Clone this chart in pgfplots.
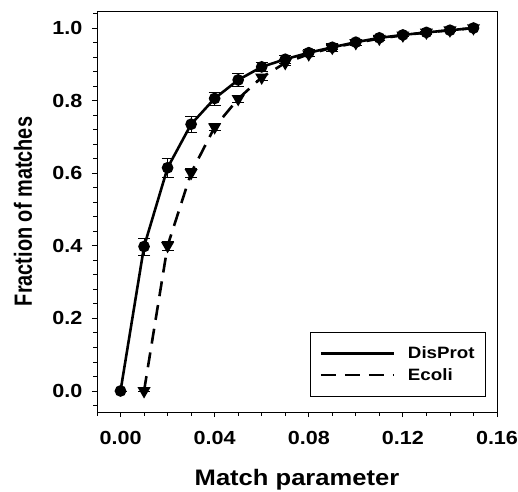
\documentclass[border=0pt]{standalone}
\usepackage{fontspec}
\setmainfont{Liberation Sans}
\newfontfamily\hfont{Liberation Sans}[FakeStretch=1.14]
\newfontfamily\vfont{Liberation Sans}[FakeStretch=0.8]
\usepackage{pgfplots}
\pgfplotsset{compat=1.18}

\pgfplotstableread{
x     y      e
0.00  0.000  0.000
0.01  0.398  0.023
0.02  0.615  0.027
0.03  0.735  0.023
0.04  0.806  0.018
0.05  0.857  0.017
0.06  0.893  0.012
0.07  0.914  0.012
0.08  0.932  0.010
0.09  0.947  0.010
0.10  0.961  0.008
0.11  0.973  0.007
0.12  0.981  0.005
0.13  0.988  0.004
0.14  0.994  0.003
0.15  1.000  0.000
}\disprot

\pgfplotstableread{
x     y      e
0.01  0.000  0.000
0.02  0.400  0.013
0.03  0.601  0.012
0.04  0.727  0.010
0.05  0.805  0.010
0.06  0.864  0.009
0.07  0.904  0.008
0.08  0.928  0.007
0.09  0.946  0.006
0.10  0.959  0.006
0.11  0.971  0.005
0.12  0.980  0.004
0.13  0.988  0.003
0.14  0.994  0.002
0.15  1.000  0.000
}\ecoli

\begin{document}
\begin{tikzpicture}
\begin{axis}[
  name=ax,
  scale only axis,
  width=400bp, height=401bp,
  xmin=-0.01, xmax=0.16,
  ymin=-0.058, ymax=1.047,
  xtick={0,0.04,...,0.16},
  minor xtick={-0.01,0.01,0.02,0.03,0.05,0.06,0.07,0.09,0.10,0.11,0.13,0.14,0.15},
  ytick={0,0.2,...,1.0},
  minor ytick={-0.04,0.04,0.08,0.12,0.16,0.24,0.28,0.32,0.36,0.44,0.48,0.52,0.56,0.64,0.68,0.72,0.76,0.84,0.88,0.92,0.96,1.04},
  xticklabel style={/pgf/number format/.cd,fixed,fixed zerofill,precision=2},
  yticklabel style={/pgf/number format/.cd,fixed,fixed zerofill,precision=1},
  /pgf/number format/assume math mode=true,
  tick label style={font=\hfont\bfseries\fontsize{19}{20}\selectfont},
  xticklabel shift=11bp, yticklabel shift=6bp,
  tick align=outside,
  xtick pos=bottom, ytick pos=left,
  major tick length=5bp, minor tick length=3.5bp,
  every tick/.style={black, line width=0.8pt},
  axis line style={line width=0.9pt},
  xlabel={Match parameter},
  ylabel={Fraction of matches},
  xlabel style={font=\hfont\bfseries\fontsize{22.5}{24}\selectfont,
    at={(axis description cs:0.5,-0.1845)}, anchor=base},
  ylabel style={font=\vfont\bfseries\fontsize{25}{26}\selectfont,
    at={(axis description cs:-0.1625,0.5)}, anchor=base},
  legend style={at={(0.9725,0.037)}, anchor=south east, draw=black, line width=0.8pt,
    font=\hfont\bfseries\fontsize{16.5}{18}\selectfont, row sep=4bp, column sep=11bp,
    inner xsep=9bp, inner ysep=13bp},
  legend cell align=left,
  legend image code/.code={\draw[#1, line width=2.4pt] (0bp,0bp) -- (73bp,0bp);},
]
\addplot[black, line width=2.6pt, mark=*, mark size=4.5bp,
  error bars/.cd, y dir=both, y explicit,
  error bar style={line width=0.7pt},
  error mark options={black, line width=0.7pt, mark size=6bp, rotate=90}]
  table[x=x, y=y, y error=e] {\disprot};
\addlegendentry{DisProt}
\addplot[black, line width=2.6pt, dash pattern=on 15bp off 9bp,
  mark=triangle*, mark size=5bp, mark options={solid, rotate=180},
  error bars/.cd, y dir=both, y explicit,
  error bar style={line width=0.7pt, solid},
  error mark options={black, solid, line width=0.7pt, mark size=6bp, rotate=90}]
  table[x=x, y=y, y error=e] {\ecoli};
\addlegendentry{Ecoli}
\end{axis}
\pgfresetboundingbox
\path[use as bounding box] ([shift={(-97bp,-80bp)}]ax.south west) rectangle ([shift={(21bp,11bp)}]ax.north east);
\end{tikzpicture}
\end{document}
